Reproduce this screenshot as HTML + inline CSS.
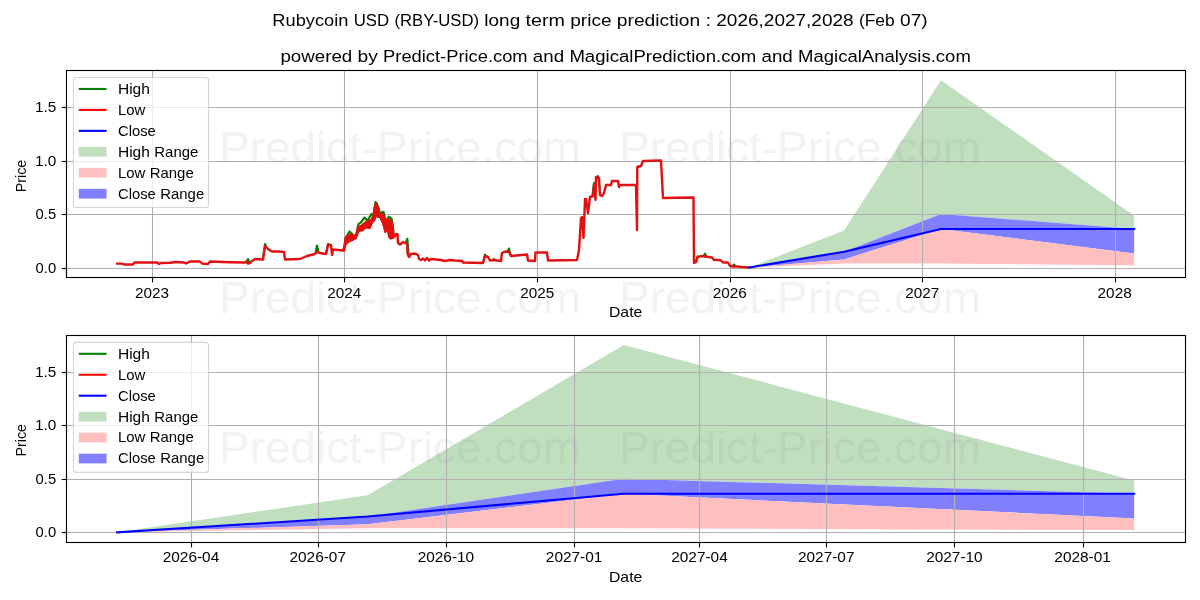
<!DOCTYPE html><html><head><meta charset="utf-8"><style>html,body{margin:0;padding:0;background:#fff;}svg{display:block;will-change:transform;}</style></head><body>
<svg width="1200" height="600" viewBox="0 0 1200 600" font-family='"Liberation Sans", sans-serif'>
<rect x="0" y="0" width="1200" height="600" fill="#fff"/>
<text x="310.37" y="26" font-size="17.1" text-anchor="middle" fill="#000" textLength="76.12" lengthAdjust="spacingAndGlyphs">Rubycoin</text>
<text x="371.45" y="26" font-size="17.1" text-anchor="middle" fill="#000" textLength="35.48" lengthAdjust="spacingAndGlyphs">USD</text>
<text x="436.78" y="26" font-size="17.1" text-anchor="middle" fill="#000" textLength="84.63" lengthAdjust="spacingAndGlyphs">(RBY-USD)</text>
<text x="502.3" y="26" font-size="17.1" text-anchor="middle" fill="#000" textLength="35.84" lengthAdjust="spacingAndGlyphs">long</text>
<text x="545.22" y="26" font-size="17.1" text-anchor="middle" fill="#000" textLength="39.44" lengthAdjust="spacingAndGlyphs">term</text>
<text x="590.88" y="26" font-size="17.1" text-anchor="middle" fill="#000" textLength="41.33" lengthAdjust="spacingAndGlyphs">price</text>
<text x="658.48" y="26" font-size="17.1" text-anchor="middle" fill="#000" textLength="83.32" lengthAdjust="spacingAndGlyphs">prediction</text>
<text x="708.22" y="26" font-size="17.1" text-anchor="middle" fill="#000" textLength="5.6" lengthAdjust="spacingAndGlyphs">:</text>
<text x="784.97" y="26" font-size="17.1" text-anchor="middle" fill="#000" textLength="137.35" lengthAdjust="spacingAndGlyphs">2026,2027,2028</text>
<text x="876.86" y="26" font-size="17.1" text-anchor="middle" fill="#000" textLength="35.88" lengthAdjust="spacingAndGlyphs">(Feb</text>
<text x="913.89" y="26" font-size="17.1" text-anchor="middle" fill="#000" textLength="27.61" lengthAdjust="spacingAndGlyphs">07)</text>
<text x="316.32" y="62" font-size="17.1" text-anchor="middle" fill="#000" textLength="71.73" lengthAdjust="spacingAndGlyphs">powered</text>
<text x="367.65" y="62" font-size="17.1" text-anchor="middle" fill="#000" textLength="20.37" lengthAdjust="spacingAndGlyphs">by</text>
<text x="455.35" y="62" font-size="17.1" text-anchor="middle" fill="#000" textLength="144.47" lengthAdjust="spacingAndGlyphs">Predict-Price.com</text>
<text x="548.49" y="62" font-size="17.1" text-anchor="middle" fill="#000" textLength="31.25" lengthAdjust="spacingAndGlyphs">and</text>
<text x="662.82" y="62" font-size="17.1" text-anchor="middle" fill="#000" textLength="186.85" lengthAdjust="spacingAndGlyphs">MagicalPrediction.com</text>
<text x="777.15" y="62" font-size="17.1" text-anchor="middle" fill="#000" textLength="31.25" lengthAdjust="spacingAndGlyphs">and</text>
<text x="884.44" y="62" font-size="17.1" text-anchor="middle" fill="#000" textLength="172.78" lengthAdjust="spacingAndGlyphs">MagicalAnalysis.com</text>
<g>
<polygon points="749.27,267.5 844.07,230.52 941,80.15 1134.15,215.67 1134.15,228.92 941,213.96 844.07,251.68 749.27,267.5" fill="#bfdfbf"/>
<polygon points="749.27,267.5 844.07,251.68 941,213.96 1134.15,228.92 1134.15,253.61 941,228.92 844.07,259.38 749.27,267.5" fill="#7f7fff"/>
<polygon points="749.27,267.5 844.07,259.38 941,228.92 1134.15,253.61 1134.15,265.26 941,263.44 844.07,263.44 749.27,267.5" fill="#ffbfbf"/>
<line x1="152.5" y1="70.5" x2="152.5" y2="277.5" stroke="#b0b0b0" stroke-width="1.11"/>
<line x1="344.5" y1="70.5" x2="344.5" y2="277.5" stroke="#b0b0b0" stroke-width="1.11"/>
<line x1="537.5" y1="70.5" x2="537.5" y2="277.5" stroke="#b0b0b0" stroke-width="1.11"/>
<line x1="730.5" y1="70.5" x2="730.5" y2="277.5" stroke="#b0b0b0" stroke-width="1.11"/>
<line x1="922.5" y1="70.5" x2="922.5" y2="277.5" stroke="#b0b0b0" stroke-width="1.11"/>
<line x1="1115.5" y1="70.5" x2="1115.5" y2="277.5" stroke="#b0b0b0" stroke-width="1.11"/>
<line x1="66.5" y1="268.5" x2="1185.5" y2="268.5" stroke="#b0b0b0" stroke-width="1.11"/>
<line x1="66.5" y1="214.5" x2="1185.5" y2="214.5" stroke="#b0b0b0" stroke-width="1.11"/>
<line x1="66.5" y1="161.5" x2="1185.5" y2="161.5" stroke="#b0b0b0" stroke-width="1.11"/>
<line x1="66.5" y1="107.5" x2="1185.5" y2="107.5" stroke="#b0b0b0" stroke-width="1.11"/>
<polyline points="246.4,262.14 248,259 249.6,263.1" fill="none" stroke="#008000" stroke-width="2.08" stroke-linejoin="round"/>
<polyline points="263.4,256.8 265,244 266.6,247.6" fill="none" stroke="#008000" stroke-width="2.08" stroke-linejoin="round"/>
<polyline points="315.4,253.6 317,245.5 318.6,252.53" fill="none" stroke="#008000" stroke-width="2.08" stroke-linejoin="round"/>
<polyline points="326.4,252.2 328,244 329.6,245" fill="none" stroke="#008000" stroke-width="2.08" stroke-linejoin="round"/>
<polyline points="405.7,243.32 407.3,238.7 408.9,256.77" fill="none" stroke="#008000" stroke-width="2.08" stroke-linejoin="round"/>
<polyline points="483.4,261.6 485,254.5 486.6,256.53" fill="none" stroke="#008000" stroke-width="2.08" stroke-linejoin="round"/>
<polyline points="492.4,260.2 494,259 495.6,260.23" fill="none" stroke="#008000" stroke-width="2.08" stroke-linejoin="round"/>
<polyline points="507.4,251.8 509,248.5 510.6,255.2" fill="none" stroke="#008000" stroke-width="2.08" stroke-linejoin="round"/>
<polyline points="592.4,196.2 594,183 595.6,195.4" fill="none" stroke="#008000" stroke-width="2.08" stroke-linejoin="round"/>
<polyline points="596.4,177.13 598,176 599.6,188.2" fill="none" stroke="#008000" stroke-width="2.08" stroke-linejoin="round"/>
<polyline points="695.9,262.05 697.5,256.2 699.1,256.81" fill="none" stroke="#008000" stroke-width="2.08" stroke-linejoin="round"/>
<polyline points="703.4,256.3 705,253.7 706.6,256.7" fill="none" stroke="#008000" stroke-width="2.08" stroke-linejoin="round"/>
<polyline points="732.4,266.4 734,264.5 735.6,266.5" fill="none" stroke="#008000" stroke-width="2.08" stroke-linejoin="round"/>
<polyline points="344,250 345.5,238 349.5,231.5 353.3,235 355.8,236.7 358.3,224.2 360.8,222.5 364.6,217.5 367.5,220.8 371.3,214.2 373.3,215.4 375.4,202.1 376.7,203.3 378.8,208.3 380,214.2 382.5,211.7 383.8,212.5 385,219.2 386.7,220 388.8,216.7 391.7,218.8 392.9,226.7 393.75,236.7 396.7,233.75 397.5,234.5" fill="none" stroke="#008000" stroke-width="2.08" stroke-linejoin="round"/>
<polygon points="344,250 345.5,238 349.5,234.5 353.3,235 355.8,236.7 358.3,227 360.8,226 364.6,223 367.5,220.8 371.3,220 373.3,215.4 375.4,205 376.7,203.3 378.8,212 380,214.2 382.5,214 383.8,216 385,219.2 386.7,220 388.8,219 391.7,222 392.9,226.7 393.75,236.7 396.7,233.75 397.5,234.5 397.5,235 396.7,234.2 393.3,237.5 390.8,238.3 389.2,236.7 387.5,224.2 385.4,231.7 383.3,223.3 380,216.7 377.9,216.7 375.8,215 374.2,220 371.7,222.5 369.6,227.9 365.8,227.1 362.5,230 358.3,230.8 355.8,237.9 352,240 349,241 345.5,244 344,251" fill="#e21010" stroke="#e21010" stroke-width="2.08" stroke-linejoin="round"/>
<polyline points="116,263.6 122,263.6 124,264.5 133,264.5 134.4,262.5 157,262.5 159,264 161,263 170,262.8 176,262 184,262.5 186,263.5 190,261.5 200,261.5 202,263.5 208,264 210,261.5 230,262.2 245,262.5 246,261.8 248,263.5 250,263 252,261 255,259 263,259.5 265,246 268,249 272,251.5 279,251.5 284,252 285,259.5 300,259 307,256 315,254 317,252 320,253 326,254 328,245 331,245 332,255 333,249.5 343,250.5 345.5,244 349,241 352,240 355.8,237.9 358.3,230.8 362.5,230 365.8,227.1 369.6,227.9 371.7,222.5 374.2,220 375.8,215 377.9,216.7 380,216.7 383.3,223.3 385.4,231.7 387.5,224.2 389.2,236.7 390.8,238.3 393.3,237.5 396.7,234.2 397.5,235 398,243 400,244.5 403,242 405,243 407.2,244 407.5,253.5 409,257 411,254 415,253.5 418,255 419,259 421,260 423,258.5 425,260.5 427,258 429,260.5 431,259 436,259.5 441,260 445,261 450,260 455,260.5 462,261 463,262.5 483,263 485,256 488,257 490,260.5 494,260 501,261 502,253 505,251.5 509,252 511,256 527,254.5 528,260.5 535,261 535.5,252.5 547,252.5 548,260.5 577,260 579,250 581,218 582,217 583.5,238 585,199 586,199 588,213 590,197 593,196 594,185 595.5,200 596,177 599,178 600,195 602,196 604,193 606,185 611,185 612,181 618,181 619,187 620,185 636,185 637,230 637.3,167 641,166 643,161 661,160.5 663,198 693.5,197.5 694,263 696,262 697.5,257.5 701,256 705,256.5 709,257 712,257.5 714,260 718,260 721,260.5 723,262.5 728,262.5 730,266 733,266.5 737,266.5 742,267 749.7,267.5" fill="none" stroke="#e21010" stroke-width="2.4" stroke-linejoin="round"/>
<polyline points="749.27,267.5 844.07,251.68 941,228.92 1134.15,228.92" fill="none" stroke="#0000ff" stroke-width="2.08" stroke-linejoin="round" stroke-linecap="square"/>
<rect x="66.5" y="70.5" width="1119" height="207" fill="none" stroke="#000" stroke-width="1.11"/>
<line x1="152.5" y1="277.5" x2="152.5" y2="282.36" stroke="#000" stroke-width="1.11"/>
<line x1="344.5" y1="277.5" x2="344.5" y2="282.36" stroke="#000" stroke-width="1.11"/>
<line x1="537.5" y1="277.5" x2="537.5" y2="282.36" stroke="#000" stroke-width="1.11"/>
<line x1="730.5" y1="277.5" x2="730.5" y2="282.36" stroke="#000" stroke-width="1.11"/>
<line x1="922.5" y1="277.5" x2="922.5" y2="282.36" stroke="#000" stroke-width="1.11"/>
<line x1="1115.5" y1="277.5" x2="1115.5" y2="282.36" stroke="#000" stroke-width="1.11"/>
<text x="151.93" y="297.61" font-size="14.2" text-anchor="middle" fill="#000" textLength="34" lengthAdjust="spacingAndGlyphs">2023</text>
<text x="344.36" y="297.61" font-size="14.2" text-anchor="middle" fill="#000" textLength="34" lengthAdjust="spacingAndGlyphs">2024</text>
<text x="537.33" y="297.61" font-size="14.2" text-anchor="middle" fill="#000" textLength="34" lengthAdjust="spacingAndGlyphs">2025</text>
<text x="729.77" y="297.61" font-size="14.2" text-anchor="middle" fill="#000" textLength="34.1" lengthAdjust="spacingAndGlyphs">2026</text>
<text x="922.2" y="297.61" font-size="14.2" text-anchor="middle" fill="#000" textLength="34" lengthAdjust="spacingAndGlyphs">2027</text>
<text x="1114.64" y="297.61" font-size="14.2" text-anchor="middle" fill="#000" textLength="34.1" lengthAdjust="spacingAndGlyphs">2028</text>
<line x1="61.64" y1="268.5" x2="66.5" y2="268.5" stroke="#000" stroke-width="1.11"/>
<text x="56.2" y="273.19" font-size="14.2" text-anchor="end" fill="#000" textLength="20.6" lengthAdjust="spacingAndGlyphs">0.0</text>
<line x1="61.64" y1="214.5" x2="66.5" y2="214.5" stroke="#000" stroke-width="1.11"/>
<text x="56.2" y="219.19" font-size="14.2" text-anchor="end" fill="#000" textLength="20.6" lengthAdjust="spacingAndGlyphs">0.5</text>
<line x1="61.64" y1="161.5" x2="66.5" y2="161.5" stroke="#000" stroke-width="1.11"/>
<text x="56.2" y="166.19" font-size="14.2" text-anchor="end" fill="#000" textLength="21.3" lengthAdjust="spacingAndGlyphs">1.0</text>
<line x1="61.64" y1="107.5" x2="66.5" y2="107.5" stroke="#000" stroke-width="1.11"/>
<text x="56.2" y="112.19" font-size="14.2" text-anchor="end" fill="#000" textLength="21.3" lengthAdjust="spacingAndGlyphs">1.5</text>
<text x="625.64" y="317.17" font-size="14.2" text-anchor="middle" fill="#000" textLength="33.38" lengthAdjust="spacingAndGlyphs">Date</text>
<text x="0" y="0" font-size="14.2" text-anchor="middle" textLength="32.3" lengthAdjust="spacingAndGlyphs" transform="translate(26,176) rotate(-90)">Price</text>
<rect x="73.5" y="77.5" width="135" height="130" rx="2.78" ry="2.78" fill="#fff" fill-opacity="0.8" stroke="#cccccc" stroke-opacity="0.8" stroke-width="1.11"/>
<line x1="79.8" y1="88.97" x2="105.5" y2="88.97" stroke="#008000" stroke-width="2.08" stroke-linecap="square"/>
<line x1="79.8" y1="109.92" x2="105.5" y2="109.92" stroke="#ff0000" stroke-width="2.08" stroke-linecap="square"/>
<line x1="79.8" y1="130.86" x2="105.5" y2="130.86" stroke="#0000ff" stroke-width="2.08" stroke-linecap="square"/>
<rect x="78.78" y="146.94" width="27.78" height="9.73" fill="#bfdfbf"/>
<rect x="78.78" y="167.89" width="27.78" height="9.73" fill="#ffbfbf"/>
<rect x="78.78" y="188.83" width="27.78" height="9.73" fill="#7f7fff"/>
<text x="133.93" y="93.83" font-size="14.2" text-anchor="middle" fill="#000" textLength="31.92" lengthAdjust="spacingAndGlyphs">High</text>
<text x="131.64" y="114.78" font-size="14.2" text-anchor="middle" fill="#000" textLength="27.35" lengthAdjust="spacingAndGlyphs">Low</text>
<text x="136.89" y="135.72" font-size="14.2" text-anchor="middle" fill="#000" textLength="37.84" lengthAdjust="spacingAndGlyphs">Close</text>
<text x="133.93" y="156.67" font-size="14.2" text-anchor="middle" fill="#000" textLength="31.92" lengthAdjust="spacingAndGlyphs">High</text>
<text x="176.31" y="156.67" font-size="14.2" text-anchor="middle" fill="#000" textLength="44.02" lengthAdjust="spacingAndGlyphs">Range</text>
<text x="131.64" y="177.61" font-size="14.2" text-anchor="middle" fill="#000" textLength="27.35" lengthAdjust="spacingAndGlyphs">Low</text>
<text x="171.74" y="177.61" font-size="14.2" text-anchor="middle" fill="#000" textLength="44.02" lengthAdjust="spacingAndGlyphs">Range</text>
<text x="136.89" y="198.56" font-size="14.2" text-anchor="middle" fill="#000" textLength="37.84" lengthAdjust="spacingAndGlyphs">Close</text>
<text x="182.23" y="198.56" font-size="14.2" text-anchor="middle" fill="#000" textLength="44.02" lengthAdjust="spacingAndGlyphs">Range</text>
</g>
<g>
<polygon points="117.13,532.33 367.62,495.35 623.76,344.98 1134.14,480.5 1134.14,493.75 623.76,478.79 367.62,516.52 117.13,532.33" fill="#bfdfbf"/>
<polygon points="117.13,532.33 367.62,516.52 623.76,478.79 1134.14,493.75 1134.14,518.44 623.76,493.75 367.62,524.21 117.13,532.33" fill="#7f7fff"/>
<polygon points="117.13,532.33 367.62,524.21 623.76,493.75 1134.14,518.44 1134.14,530.09 623.76,528.27 367.62,528.27 117.13,532.33" fill="#ffbfbf"/>
<line x1="191.5" y1="335.5" x2="191.5" y2="542.5" stroke="#b0b0b0" stroke-width="1.11"/>
<line x1="318.5" y1="335.5" x2="318.5" y2="542.5" stroke="#b0b0b0" stroke-width="1.11"/>
<line x1="446.5" y1="335.5" x2="446.5" y2="542.5" stroke="#b0b0b0" stroke-width="1.11"/>
<line x1="574.5" y1="335.5" x2="574.5" y2="542.5" stroke="#b0b0b0" stroke-width="1.11"/>
<line x1="699.5" y1="335.5" x2="699.5" y2="542.5" stroke="#b0b0b0" stroke-width="1.11"/>
<line x1="826.5" y1="335.5" x2="826.5" y2="542.5" stroke="#b0b0b0" stroke-width="1.11"/>
<line x1="954.5" y1="335.5" x2="954.5" y2="542.5" stroke="#b0b0b0" stroke-width="1.11"/>
<line x1="1083.5" y1="335.5" x2="1083.5" y2="542.5" stroke="#b0b0b0" stroke-width="1.11"/>
<line x1="66.5" y1="532.5" x2="1185.5" y2="532.5" stroke="#b0b0b0" stroke-width="1.11"/>
<line x1="66.5" y1="479.5" x2="1185.5" y2="479.5" stroke="#b0b0b0" stroke-width="1.11"/>
<line x1="66.5" y1="425.5" x2="1185.5" y2="425.5" stroke="#b0b0b0" stroke-width="1.11"/>
<line x1="66.5" y1="372.5" x2="1185.5" y2="372.5" stroke="#b0b0b0" stroke-width="1.11"/>
<polyline points="117.13,532.33 367.62,516.52 623.76,493.75 1134.14,493.75" fill="none" stroke="#0000ff" stroke-width="2.08" stroke-linejoin="round" stroke-linecap="square"/>
<rect x="66.5" y="335.5" width="1119" height="207" fill="none" stroke="#000" stroke-width="1.11"/>
<line x1="191.5" y1="542.5" x2="191.5" y2="547.36" stroke="#000" stroke-width="1.11"/>
<line x1="318.5" y1="542.5" x2="318.5" y2="547.36" stroke="#000" stroke-width="1.11"/>
<line x1="446.5" y1="542.5" x2="446.5" y2="547.36" stroke="#000" stroke-width="1.11"/>
<line x1="574.5" y1="542.5" x2="574.5" y2="547.36" stroke="#000" stroke-width="1.11"/>
<line x1="699.5" y1="542.5" x2="699.5" y2="547.36" stroke="#000" stroke-width="1.11"/>
<line x1="826.5" y1="542.5" x2="826.5" y2="547.36" stroke="#000" stroke-width="1.11"/>
<line x1="954.5" y1="542.5" x2="954.5" y2="547.36" stroke="#000" stroke-width="1.11"/>
<line x1="1083.5" y1="542.5" x2="1083.5" y2="547.36" stroke="#000" stroke-width="1.11"/>
<text x="190.97" y="562.44" font-size="14.2" text-anchor="middle" fill="#000" textLength="56.5" lengthAdjust="spacingAndGlyphs">2026-04</text>
<text x="317.75" y="562.44" font-size="14.2" text-anchor="middle" fill="#000" textLength="56.5" lengthAdjust="spacingAndGlyphs">2026-07</text>
<text x="445.92" y="562.44" font-size="14.2" text-anchor="middle" fill="#000" textLength="56.5" lengthAdjust="spacingAndGlyphs">2026-10</text>
<text x="574.09" y="562.44" font-size="14.2" text-anchor="middle" fill="#000" textLength="56.5" lengthAdjust="spacingAndGlyphs">2027-01</text>
<text x="699.48" y="562.44" font-size="14.2" text-anchor="middle" fill="#000" textLength="56.5" lengthAdjust="spacingAndGlyphs">2027-04</text>
<text x="826.26" y="562.44" font-size="14.2" text-anchor="middle" fill="#000" textLength="56.5" lengthAdjust="spacingAndGlyphs">2027-07</text>
<text x="954.43" y="562.44" font-size="14.2" text-anchor="middle" fill="#000" textLength="56.5" lengthAdjust="spacingAndGlyphs">2027-10</text>
<text x="1082.6" y="562.44" font-size="14.2" text-anchor="middle" fill="#000" textLength="56.5" lengthAdjust="spacingAndGlyphs">2028-01</text>
<line x1="61.64" y1="532.5" x2="66.5" y2="532.5" stroke="#000" stroke-width="1.11"/>
<text x="56.2" y="537.19" font-size="14.2" text-anchor="end" fill="#000" textLength="20.6" lengthAdjust="spacingAndGlyphs">0.0</text>
<line x1="61.64" y1="479.5" x2="66.5" y2="479.5" stroke="#000" stroke-width="1.11"/>
<text x="56.2" y="484.19" font-size="14.2" text-anchor="end" fill="#000" textLength="20.6" lengthAdjust="spacingAndGlyphs">0.5</text>
<line x1="61.64" y1="425.5" x2="66.5" y2="425.5" stroke="#000" stroke-width="1.11"/>
<text x="56.2" y="430.19" font-size="14.2" text-anchor="end" fill="#000" textLength="21.3" lengthAdjust="spacingAndGlyphs">1.0</text>
<line x1="61.64" y1="372.5" x2="66.5" y2="372.5" stroke="#000" stroke-width="1.11"/>
<text x="56.2" y="377.19" font-size="14.2" text-anchor="end" fill="#000" textLength="21.3" lengthAdjust="spacingAndGlyphs">1.5</text>
<text x="625.64" y="582" font-size="14.2" text-anchor="middle" fill="#000" textLength="33.38" lengthAdjust="spacingAndGlyphs">Date</text>
<text x="0" y="0" font-size="14.2" text-anchor="middle" textLength="32.3" lengthAdjust="spacingAndGlyphs" transform="translate(26,440.3) rotate(-90)">Price</text>
<rect x="73.5" y="342.33" width="135" height="130" rx="2.78" ry="2.78" fill="#fff" fill-opacity="0.8" stroke="#cccccc" stroke-opacity="0.8" stroke-width="1.11"/>
<line x1="79.8" y1="353.8" x2="105.5" y2="353.8" stroke="#008000" stroke-width="2.08" stroke-linecap="square"/>
<line x1="79.8" y1="374.75" x2="105.5" y2="374.75" stroke="#ff0000" stroke-width="2.08" stroke-linecap="square"/>
<line x1="79.8" y1="395.69" x2="105.5" y2="395.69" stroke="#0000ff" stroke-width="2.08" stroke-linecap="square"/>
<rect x="78.78" y="411.77" width="27.78" height="9.73" fill="#bfdfbf"/>
<rect x="78.78" y="432.72" width="27.78" height="9.73" fill="#ffbfbf"/>
<rect x="78.78" y="453.66" width="27.78" height="9.73" fill="#7f7fff"/>
<text x="133.93" y="358.66" font-size="14.2" text-anchor="middle" fill="#000" textLength="31.92" lengthAdjust="spacingAndGlyphs">High</text>
<text x="131.64" y="379.61" font-size="14.2" text-anchor="middle" fill="#000" textLength="27.35" lengthAdjust="spacingAndGlyphs">Low</text>
<text x="136.89" y="400.55" font-size="14.2" text-anchor="middle" fill="#000" textLength="37.84" lengthAdjust="spacingAndGlyphs">Close</text>
<text x="133.93" y="421.5" font-size="14.2" text-anchor="middle" fill="#000" textLength="31.92" lengthAdjust="spacingAndGlyphs">High</text>
<text x="176.31" y="421.5" font-size="14.2" text-anchor="middle" fill="#000" textLength="44.02" lengthAdjust="spacingAndGlyphs">Range</text>
<text x="131.64" y="442.44" font-size="14.2" text-anchor="middle" fill="#000" textLength="27.35" lengthAdjust="spacingAndGlyphs">Low</text>
<text x="171.74" y="442.44" font-size="14.2" text-anchor="middle" fill="#000" textLength="44.02" lengthAdjust="spacingAndGlyphs">Range</text>
<text x="136.89" y="463.39" font-size="14.2" text-anchor="middle" fill="#000" textLength="37.84" lengthAdjust="spacingAndGlyphs">Close</text>
<text x="182.23" y="463.39" font-size="14.2" text-anchor="middle" fill="#000" textLength="44.02" lengthAdjust="spacingAndGlyphs">Range</text>
</g>
<text x="400" y="162.8" font-size="44.5" text-anchor="middle" fill="#808080" textLength="361.9" lengthAdjust="spacingAndGlyphs" fill-opacity="0.1">Predict-Price.com</text>
<text x="800" y="162.8" font-size="44.5" text-anchor="middle" fill="#808080" textLength="361.9" lengthAdjust="spacingAndGlyphs" fill-opacity="0.1">Predict-Price.com</text>
<text x="400" y="312.8" font-size="44.5" text-anchor="middle" fill="#808080" textLength="361.9" lengthAdjust="spacingAndGlyphs" fill-opacity="0.1">Predict-Price.com</text>
<text x="800" y="312.8" font-size="44.5" text-anchor="middle" fill="#808080" textLength="361.9" lengthAdjust="spacingAndGlyphs" fill-opacity="0.1">Predict-Price.com</text>
<text x="400" y="462.8" font-size="44.5" text-anchor="middle" fill="#808080" textLength="361.9" lengthAdjust="spacingAndGlyphs" fill-opacity="0.1">Predict-Price.com</text>
<text x="800" y="462.8" font-size="44.5" text-anchor="middle" fill="#808080" textLength="361.9" lengthAdjust="spacingAndGlyphs" fill-opacity="0.1">Predict-Price.com</text>
</svg></body></html>
